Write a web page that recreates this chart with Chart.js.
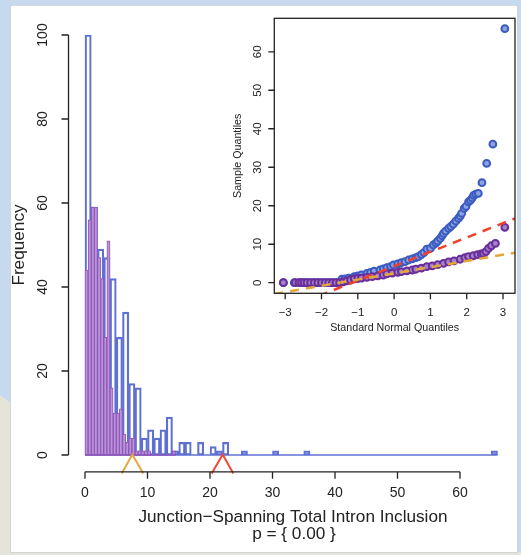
<!DOCTYPE html>
<html>
<head>
<meta charset="utf-8">
<style>
html, body { margin: 0; padding: 0; }
body { width: 521px; height: 555px; position: relative; overflow: hidden; background: #c6d9ef; font-family: "Liberation Sans", Arial, sans-serif; }
#beige { position: absolute; left: 0; top: 0; width: 521px; height: 555px; background: #e5e4d8;
  clip-path: polygon(0 395px, 12px 404px, 12px 552px, 521px 552px, 521px 555px, 0 555px); }
#panel { position: absolute; left: 10px; top: 5px; width: 506px; height: 546px; background: #fff; border: 1px solid #d3d6d9; }
#main { position: absolute; left: 0; top: 0; }
#qq { position: absolute; left: 230px; top: 0; }
</style>
<script src="https://cdn.jsdelivr.net/npm/chart.js@4.4.0/dist/chart.umd.min.js"></script>
<script>
// histogram bins (midpoints) and counts
var blueMid    = [0.5, 1.5, 2.5, 3.5, 4.5, 5.5, 6.5, 7.5, 8.5, 9.5, 10.5, 11.5, 12.5, 13.5, 14.5, 15.5, 16.5, 18.5, 20.5, 21.5, 22.5, 25.5, 30.5, 35.5, 65.5];
var blueCounts = [100, 59, 49, 47, 42, 28, 34, 17, 16, 4, 6, 4, 6, 9, 1, 3, 3, 3, 2, 1, 3, 1, 1, 1, 1];

var purpleMid    = [0.25, 0.75, 1.25, 1.75, 2.25, 2.75, 3.25, 3.75, 4.25, 4.75, 5.25, 5.75, 6.25, 6.75, 7.25, 7.75, 8.25, 8.75, 9.25, 9.75, 10.25, 10.75, 11.25, 11.75, 12.25, 12.75, 13.25, 13.75, 14.25];
var purpleCounts = [44, 56, 59, 59, 47, 42, 28, 51, 16, 10, 10, 11, 5, 3, 4, 4, 1, 1, 1, 1, 1, 0, 0, 0, 0, 0, 0, 0, 1];

// markers under the axis (orange, red chevrons)
var orangeMarkX = [5.87, 7.57, 9.33];
var redMarkX    = [20.27, 22.03, 23.73];
var markY       = [-4.4, 0.1, -4.4];

var xTicks = [0, 10, 20, 30, 40, 50, 60];
var yTicks = [0, 20, 40, 60, 80, 100];
var xTitle = "Junction\u2212Spanning Total Intron Inclusion";
var pText  = "p = { 0.00 }";

// QQ inset (theoretical quantile, sample quantile)
var qqBlueX = [-3.05, -2.75, -2.6, -2.5, -2.4, -2.3, -2.2, -2.1, -2.0, -1.9, -1.8, -1.7, -1.6, -1.5, -1.44, -1.35, -1.25, -1.1, -1.0, -0.9, -0.75, -0.65, -0.55, -0.39, -0.3, -0.2, -0.1, -0.02, 0.1, 0.2, 0.3, 0.4, 0.5, 0.6, 0.67, 0.75, 0.82, 0.9, 1.0, 1.08, 1.15, 1.2, 1.27, 1.32, 1.36, 1.42, 1.5, 1.56, 1.63, 1.7, 1.77, 1.82, 1.86, 1.93, 1.98, 2.05, 2.1, 2.15, 2.19, 2.25, 2.32, 2.42, 2.55, 2.72, 3.05];
var qqBlueY = [0, 0, 0, 0, 0, 0, 0, 0, 0, 0, 0, 0, 0, 0, 0.9, 1, 1.2, 1.6, 1.8, 2, 2.4, 2.7, 3, 3.3, 3.6, 3.9, 4.2, 4.6, 4.9, 5.2, 5.5, 5.9, 6.2, 6.5, 6.8, 7.3, 7.8, 8.7, 8.9, 9.8, 10.3, 10.8, 11.5, 12.2, 12.8, 13.4, 14.1, 14.6, 15.2, 16, 16.7, 17.3, 18, 19.3, 19.8, 21, 21.4, 22, 22.7, 23, 23.2, 26, 31, 36, 66];
var qqPurpleX = [-3.05, -2.72, -2.62, -2.55, -2.48, -2.4, -2.3, -2.2, -2.1, -2.0, -1.9, -1.8, -1.7, -1.6, -1.5, -1.4, -1.3, -1.2, -1.1, -1.0, -0.9, -0.75, -0.6, -0.45, -0.3, -0.2, -0.05, 0.1, 0.2, 0.35, 0.5, 0.6, 0.75, 0.9, 1.05, 1.2, 1.36, 1.5, 1.65, 1.82, 1.95, 2.05, 2.18, 2.3, 2.4, 2.46, 2.53, 2.6, 2.68, 2.79, 3.05];
var qqPurpleY = [0, 0, 0, 0, 0, 0, 0, 0, 0, 0, 0, 0, 0, 0, 0, 0.2, 0.5, 0.7, 1, 1.1, 1.2, 1.4, 1.6, 1.8, 2, 2.3, 2.5, 2.7, 2.9, 3.1, 3.3, 3.5, 3.8, 4.2, 4.4, 4.7, 5, 5.4, 5.7, 6.1, 6.5, 6.8, 7, 7.3, 7.5, 7.6, 8.1, 8.9, 9.6, 10.2, 14.4];
var redLineX = [-3.3, 3.33], redLineY = [-8.0, 16.7];
var orangeLineX = [-3.3, 3.33], orangeLineY = [-2.9, 7.8];
var qqXTicks = [-3, -2, -1, 0, 1, 2, 3];
var qqYTicks = [0, 10, 20, 30, 40, 50, 60];

var blue = '#5f70d3';
var purpleEdge = '#8f56b8';
var purpleFill = 'rgba(190, 152, 218, 0.9)';
var font = '"Liberation Sans", Arial, sans-serif';

function pts(xs, ys) {
  return xs.map(function (x, i) { return { x: x, y: ys[i] }; });
}

// R-style axes: line only over the tick range, ticks outside, rotated y labels
var mainAxes = {
  id: 'mainAxes',
  afterDraw: function (chart) {
    var c = chart.ctx, xs = chart.scales.x, ys = chart.scales.y, a = chart.chartArea;
    c.save();
    c.strokeStyle = '#222'; c.fillStyle = '#222'; c.lineWidth = 1.3;
    c.beginPath();
    c.moveTo(a.left, ys.getPixelForValue(yTicks[0]));
    c.lineTo(a.left, ys.getPixelForValue(yTicks[yTicks.length - 1]));
    yTicks.forEach(function (t) {
      var p = ys.getPixelForValue(t);
      c.moveTo(a.left, p); c.lineTo(a.left - 7, p);
    });
    c.moveTo(xs.getPixelForValue(xTicks[0]), a.bottom);
    c.lineTo(xs.getPixelForValue(xTicks[xTicks.length - 1]), a.bottom);
    xTicks.forEach(function (t) {
      var p = xs.getPixelForValue(t);
      c.moveTo(p, a.bottom); c.lineTo(p, a.bottom + 7);
    });
    c.stroke();
    c.font = '14px ' + font;
    c.textAlign = 'center'; c.textBaseline = 'middle';
    xTicks.forEach(function (t) { c.fillText(String(t), xs.getPixelForValue(t), a.bottom + 21); });
    yTicks.forEach(function (t) {
      c.save(); c.translate(a.left - 25, ys.getPixelForValue(t)); c.rotate(-Math.PI / 2);
      c.fillText(String(t), 0, 0); c.restore();
    });
    c.font = '17.2px ' + font;
    c.fillText(xTitle, 293, 517);
    c.fillText(pText, 294, 534);
    c.save(); c.translate(19, (a.top + a.bottom) / 2); c.rotate(-Math.PI / 2);
    c.fillText('Frequency', 0, 0); c.restore();
    c.restore();
  }
};

var qqAxes = {
  id: 'qqAxes',
  afterDraw: function (chart) {
    var c = chart.ctx, xs = chart.scales.x, ys = chart.scales.y, a = chart.chartArea;
    c.save();
    c.strokeStyle = '#222'; c.fillStyle = '#222'; c.lineWidth = 1.3;
    c.strokeRect(a.left, a.top, a.right - a.left, a.bottom - a.top);
    c.beginPath();
    qqXTicks.forEach(function (t) {
      var p = xs.getPixelForValue(t);
      c.moveTo(p, a.bottom); c.lineTo(p, a.bottom + 6);
    });
    qqYTicks.forEach(function (t) {
      var p = ys.getPixelForValue(t);
      c.moveTo(a.left, p); c.lineTo(a.left - 6, p);
    });
    c.stroke();
    c.font = '11.5px ' + font;
    c.textAlign = 'center'; c.textBaseline = 'middle';
    qqXTicks.forEach(function (t) {
      c.fillText(t < 0 ? '\u2212' + (-t) : String(t), xs.getPixelForValue(t), a.bottom + 20);
    });
    qqYTicks.forEach(function (t) {
      c.save(); c.translate(a.left - 16, ys.getPixelForValue(t)); c.rotate(-Math.PI / 2);
      c.fillText(String(t), 0, 0); c.restore();
    });
    c.font = '10.7px ' + font;
    c.fillText('Standard Normal Quantiles', (a.left + a.right) / 2, a.bottom + 35);
    c.save(); c.translate(8, (a.top + a.bottom) / 2); c.rotate(-Math.PI / 2);
    c.fillText('Sample Quantiles', 0, 0); c.restore();
    c.restore();
  }
};

document.addEventListener("DOMContentLoaded", function () {
  Chart.defaults.animation = false;
  Chart.defaults.font.family = font;

  new Chart(document.getElementById('main'), {
    type: 'bar',
    data: {
      datasets: [{
        type: 'line', data: pts([0, 66], [0, 0]), xAxisID: 'x',
        borderColor: blue, borderWidth: 1.5, pointRadius: 0, order: 5
      }, {
        data: pts(blueMid, blueCounts), xAxisID: 'x',
        borderColor: blue, borderWidth: 1.5, backgroundColor: 'rgba(0,0,0,0)',
        borderSkipped: false, barPercentage: 1, categoryPercentage: 1, grouped: false, order: 4
      }, {
        data: pts(purpleMid, purpleCounts), xAxisID: 'x2',
        borderColor: purpleEdge, borderWidth: 1, backgroundColor: purpleFill,
        borderSkipped: false, barPercentage: 1, categoryPercentage: 1, grouped: false, order: 3
      }, {
        type: 'line', data: pts([0, 14.5], [0, 0]), xAxisID: 'x',
        borderColor: purpleEdge, borderWidth: 1.5, pointRadius: 0, order: 2
      }, {
        type: 'line', data: pts(orangeMarkX, markY), xAxisID: 'x', clip: false,
        borderColor: '#e5a73f', borderWidth: 2, pointRadius: 0, order: 1
      }, {
        type: 'line', data: pts(redMarkX, markY), xAxisID: 'x', clip: false,
        borderColor: '#f2483a', borderWidth: 2, pointRadius: 0, order: 1
      }]
    },
    options: {
      responsive: false,
      layout: { padding: { left: 68.5, right: 7, top: 18.2, bottom: 83.2 } },
      plugins: { legend: { display: false }, tooltip: { enabled: false } },
      scales: {
        x: { type: 'linear', min: -2.64, max: 68.64, offset: false, display: false },
        x2: { type: 'linear', min: -2.64, max: 68.64, offset: false, display: false },
        y: { min: -4, max: 104, display: false }
      }
    },
    plugins: [mainAxes]
  });

  new Chart(document.getElementById('qq'), {
    type: 'scatter',
    data: {
      datasets: [{
        data: pts(qqBlueX, qqBlueY), pointRadius: 3.4, borderWidth: 2,
        borderColor: '#3b5bc2', backgroundColor: '#8ea2df', order: 4
      }, {
        data: pts(qqPurpleX, qqPurpleY), pointRadius: 3.4, borderWidth: 2,
        borderColor: '#6a2d9c', backgroundColor: '#a583c5', order: 3
      }, {
        type: 'line', data: pts(redLineX, redLineY), borderColor: '#f0402e',
        borderWidth: 2.5, borderDash: [9, 7], pointRadius: 0, order: 2
      }, {
        type: 'line', data: pts(orangeLineX, orangeLineY), borderColor: '#e3a83a',
        borderWidth: 2.5, borderDash: [9, 7], pointRadius: 0, order: 1
      }]
    },
    options: {
      responsive: false,
      layout: { padding: { left: 44.3, right: 6, top: 18.3, bottom: 51.7 } },
      plugins: { legend: { display: false }, tooltip: { enabled: false } },
      scales: {
        x: { type: 'linear', min: -3.3, max: 3.33, display: false },
        y: { min: -2.75, max: 68.7, display: false }
      }
    },
    plugins: [qqAxes]
  });
});
</script>
</head>
<body>
<div id="beige"></div>
<div id="panel"></div>
<canvas id="main" width="521" height="555"></canvas>
<canvas id="qq" width="291" height="345"></canvas>
</body>
</html>
